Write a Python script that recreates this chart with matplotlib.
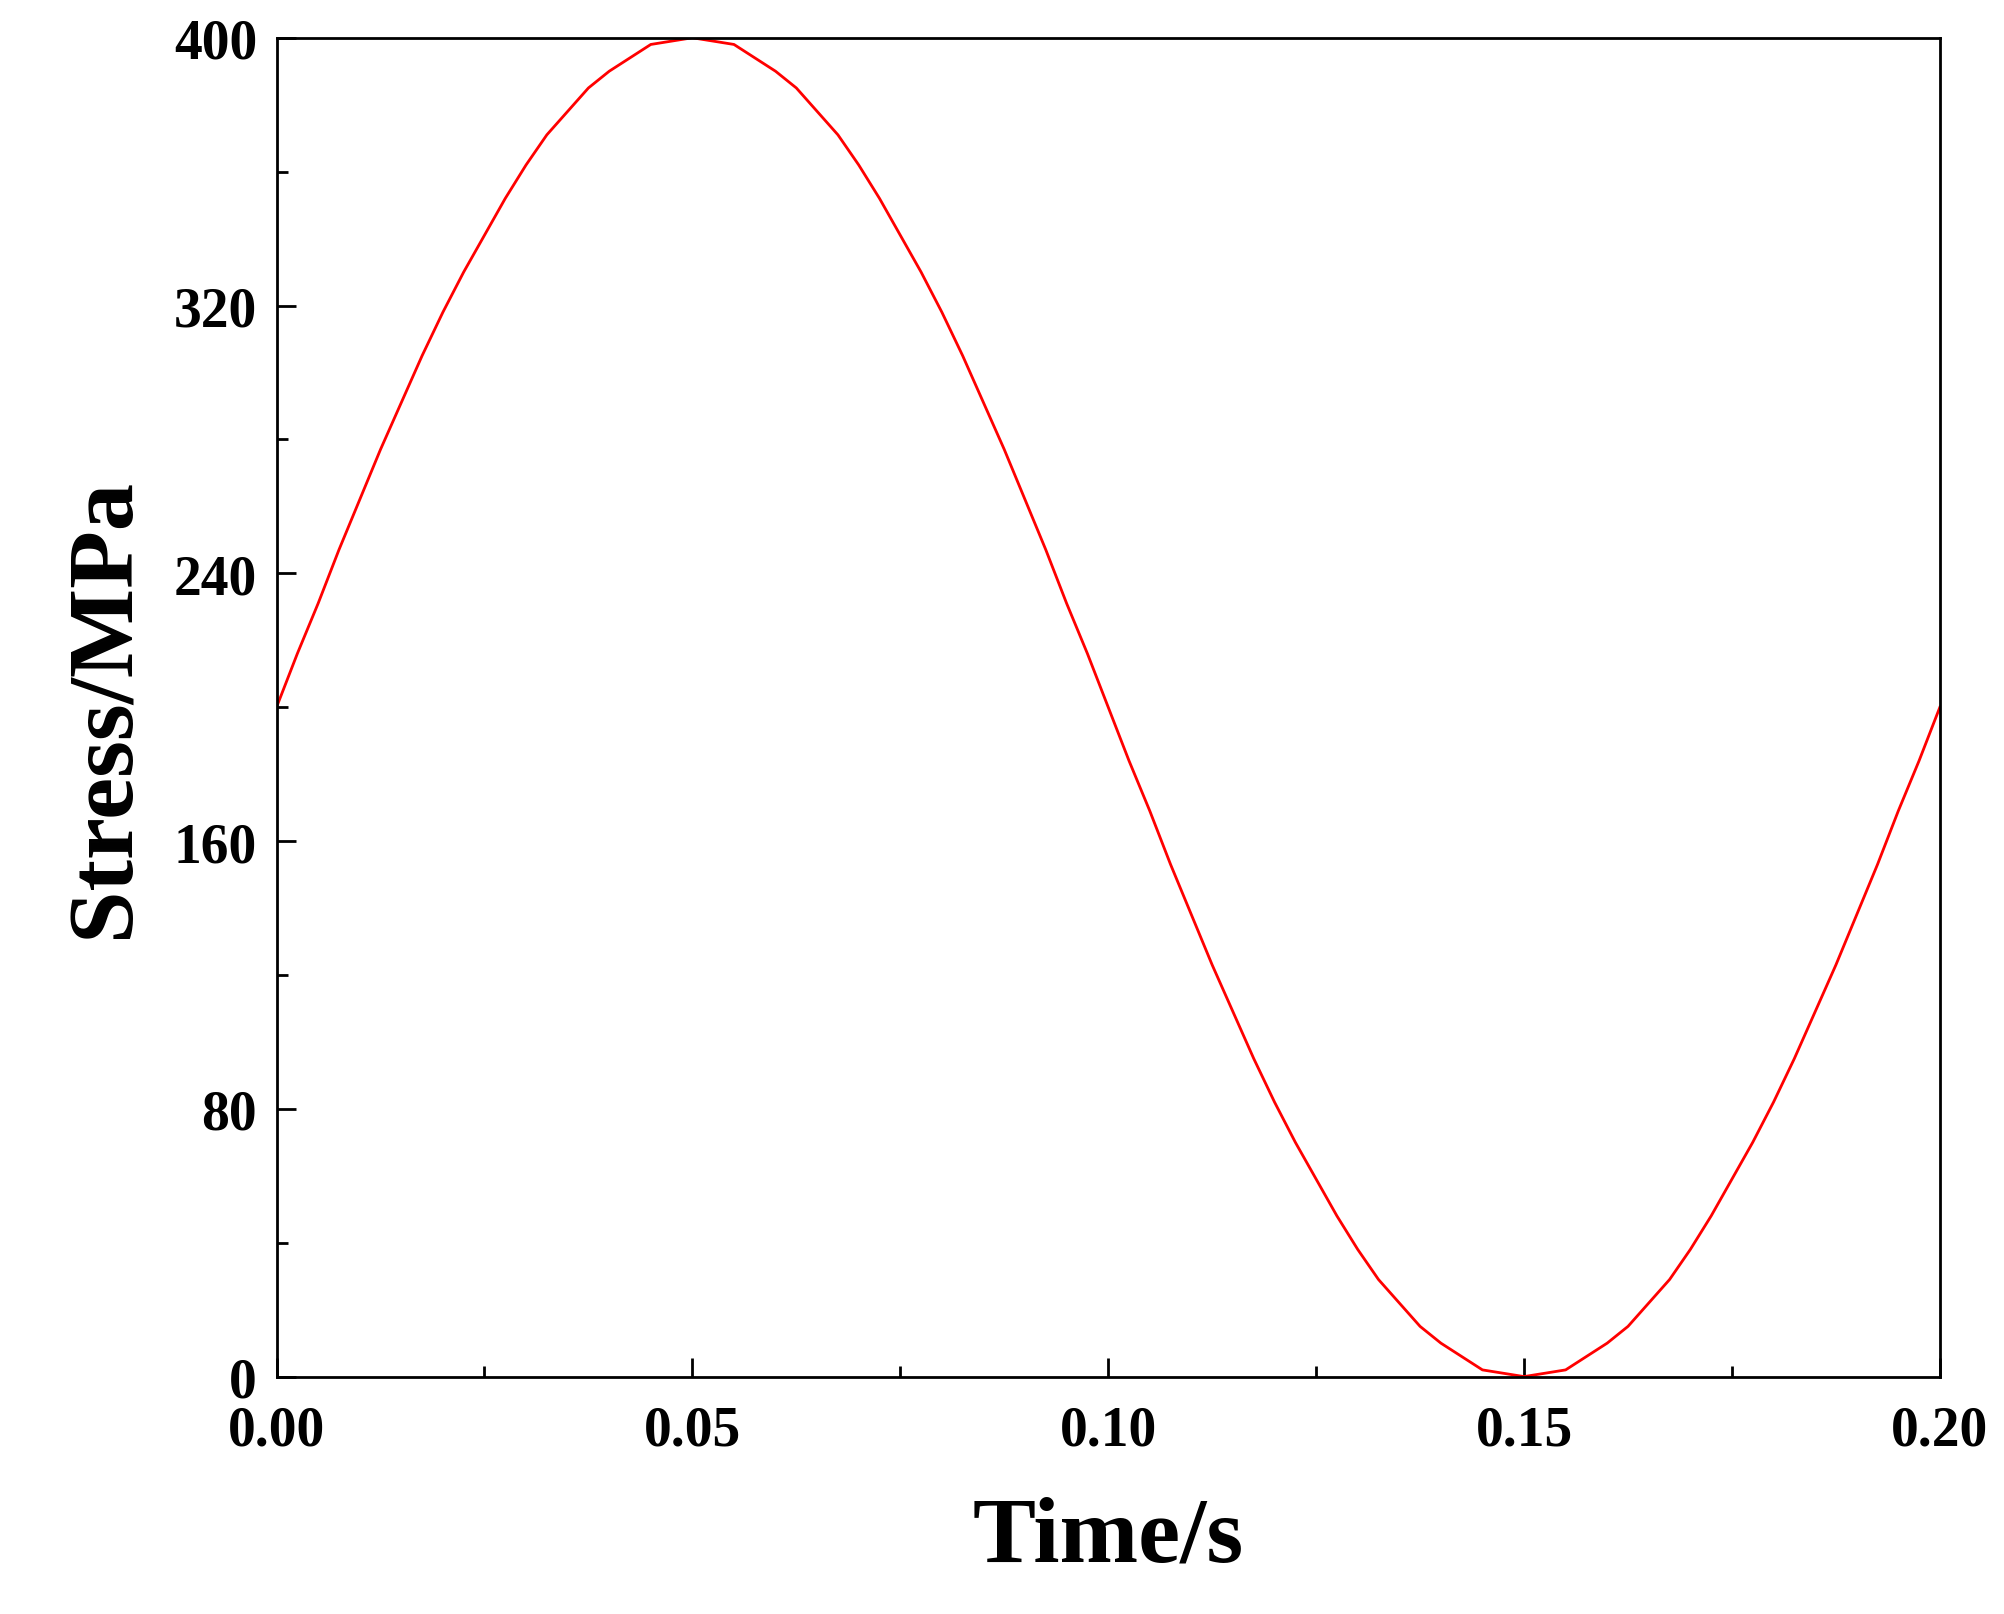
import numpy as np
import matplotlib
matplotlib.use("Agg")
import matplotlib.pyplot as plt
from matplotlib.ticker import MultipleLocator, FormatStrFormatter

time_start, time_end = 0.0, 0.2
stress_mpa = [200, 216, 231, 247, 262, 277, 291, 305, 318, 330, 341, 352, 362, 371, 378, 385, 390, 394, 398, 399,
              400, 399, 398, 394, 390, 385, 378, 371, 362, 352, 341, 330, 318, 305, 291, 277, 262, 247, 231, 216,
              200, 184, 169, 153, 138, 123, 109, 95, 82, 70, 59, 48, 38, 29, 22, 15, 10, 6, 2, 1,
              0, 1, 2, 6, 10, 15, 22, 29, 38, 48, 59, 70, 82, 95, 109, 123, 138, 153, 169, 184, 200]
time_s = np.linspace(time_start, time_end, len(stress_mpa))

plt.rcParams['font.family'] = ['Liberation Serif', 'DejaVu Serif']
plt.rcParams['font.weight'] = 'bold'

fig = plt.figure(figsize=(20.04, 16.15), dpi=100)
ax = fig.add_axes([0.138, 0.147, 0.830, 0.829])
ax.plot(time_s, stress_mpa, color='red', lw=2)
ax.set_xlim(0, 0.2)
ax.set_ylim(0, 400)
ax.xaxis.set_major_locator(MultipleLocator(0.05))
ax.xaxis.set_minor_locator(MultipleLocator(0.025))
ax.yaxis.set_major_locator(MultipleLocator(80))
ax.yaxis.set_minor_locator(MultipleLocator(40))
ax.xaxis.set_major_formatter(FormatStrFormatter('%.2f'))
ax.tick_params(which='both', direction='in', top=False, right=False, width=2)
ax.tick_params(which='major', length=14, labelsize=40)
ax.tick_params(axis='x', which='major', pad=20)
ax.tick_params(axis='y', which='major', pad=14)
ax.tick_params(which='minor', length=8)
for s in ax.spines.values():
    s.set_linewidth(2)
for lab in ax.get_xticklabels() + ax.get_yticklabels():
    lab.set_fontweight('bold')
ax.set_xlabel('Time/s', fontsize=68, fontweight='bold', labelpad=28)
ax.set_ylabel('Stress/MPa', fontsize=68, fontweight='bold', labelpad=18)
fig.savefig('out.png', dpi=100)
